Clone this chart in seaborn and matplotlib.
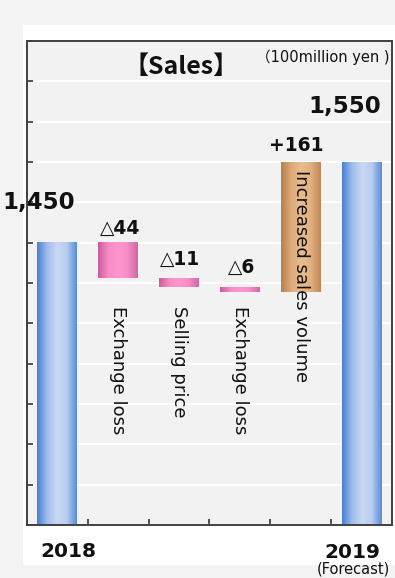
import numpy as np
import matplotlib
matplotlib.use("Agg")
import matplotlib.pyplot as plt
import seaborn as sns
from matplotlib.colors import LinearSegmentedColormap
from matplotlib.patches import Rectangle

# ---- data (100 million yen) ----
steps = ["2018", "Exchange loss", "Selling price", "Exchange loss",
         "Increased sales volume", "2019"]
start_value = 1450
deltas = [-44, -11, -6, 161]
end_value = 1550
delta_labels = ["\u25b344", "\u25b311", "\u25b36", "+161"]
total_labels = ["1,450", "1,550"]

# waterfall geometry from the data
levels = np.concatenate([[start_value], start_value + np.cumsum(deltas)])
bottoms = [0] + [min(levels[i], levels[i + 1]) for i in range(len(deltas))] + [0]
heights = [start_value] + [abs(d) for d in deltas] + [end_value]
kinds = ["total", "loss", "loss", "loss", "gain", "total"]

ymin, ymax = 1100, 1700

sns.set_theme(style="white")
plt.rcParams["font.family"] = ["DejaVu Sans", "Noto Sans CJK JP"]
plt.rcParams["text.color"] = "#111111"

fig = plt.figure(figsize=(3.95, 5.78), dpi=100, facecolor="#f3f3f3")
fig.patches.append(Rectangle((23 / 395, 13 / 578), 372 / 395, 540 / 578,
                             transform=fig.transFigure, facecolor="white",
                             edgecolor="none", zorder=-10))
ax = fig.add_axes([27 / 395, 53 / 578, 365 / 395, 484 / 578])
ax.set_facecolor("#f2f2f2")

sns.barplot(x=list(range(len(steps))), y=heights, bottom=bottoms,
            color="#a9c4ee", width=0.656, ax=ax, zorder=3, linewidth=0)

# gradient fill on each bar
grad = {
    "total": ["#4a7fd5", "#9fbcec", "#c9d8f2", "#b9cdf0", "#5a8cdb"],
    "loss": ["#cc5c9c", "#f48cc5", "#ff96ce", "#f58cc6", "#d468a6"],
    "gain": ["#b98150", "#dcaa78", "#e9bd8d", "#e2b081", "#c08856"],
}
for patch, kind in zip(ax.patches, kinds):
    cmap = LinearSegmentedColormap.from_list(kind, grad[kind])
    patch.set_facecolor(grad[kind][2])
    x0, y0 = patch.get_x(), patch.get_y()
    w, h = patch.get_width(), patch.get_height()
    lo, hi = max(y0, ymin), min(y0 + h, ymax)
    ax.imshow(np.linspace(0, 1, 64).reshape(1, -1), cmap=cmap,
              extent=[x0, x0 + w, lo, hi], aspect="auto", zorder=3.5)

ax.set_xlim(-0.5, 5.5)
ax.set_ylim(ymin, ymax)
ax.set_yticks(np.arange(ymin, ymax + 1, 50))
ax.set_yticklabels([])
ax.set_xticks(np.arange(0.5, 5, 1))
ax.set_xticklabels([])
ax.set_xlabel("")
ax.grid(axis="y", color="white", linewidth=1.6, zorder=1)
ax.set_axisbelow(True)
ax.tick_params(axis="both", direction="in", length=4, width=1.2,
               color="#333333", left=True, bottom=True)
for s in ax.spines.values():
    s.set_color("#404040")
    s.set_linewidth(1.4)
    s.set_zorder(6)

half = 0.328
# totals
ax.annotate(total_labels[0], xy=(0 + half, start_value), xytext=(-1.5, 24.5),
            textcoords="offset points", ha="right", va="baseline",
            fontsize=16.5, fontweight="bold", annotation_clip=False)
ax.annotate(total_labels[1], xy=(5 + half, end_value), xytext=(0, 35),
            textcoords="offset points", ha="right", va="baseline",
            fontsize=16.5, fontweight="bold", annotation_clip=False)

# deltas
delta_offsets = [(1.5, 6.5), (1, 9.5), (1, 10), (-3, 8)]
for i, (lab, off) in enumerate(zip(delta_labels, delta_offsets)):
    top = bottoms[i + 1] + heights[i + 1]
    ax.annotate(lab, xy=(i + 1, top), xytext=off, textcoords="offset points",
                ha="center", va="baseline", fontsize=13.5, fontweight="bold")

# rotated step names
for i in range(1, 4):
    ax.text(i, 1372, steps[i], rotation=-90, ha="center", va="top",
            fontsize=13)
ax.annotate(steps[4], xy=(4, levels[-1]), xytext=(0, -6),
            textcoords="offset points", rotation=-90, ha="center", va="top",
            fontsize=13, zorder=5)

# year labels under the axis
xt = ax.get_xaxis_transform()
ax.annotate(steps[0], xy=(0, 0), xycoords=xt, xytext=(8, -23),
            textcoords="offset points", ha="center", va="baseline",
            fontsize=14.5, fontweight="bold", annotation_clip=False)
ax.annotate(steps[5], xy=(5, 0), xycoords=xt, xytext=(-6.5, -24),
            textcoords="offset points", ha="center", va="baseline",
            fontsize=14.5, fontweight="bold", annotation_clip=False)
ax.annotate("(Forecast)", xy=(5, 0), xycoords=xt, xytext=(-6, -35),
            textcoords="offset points", ha="center", va="baseline",
            fontsize=10.5, annotation_clip=False)

# titles
ax.text((181 - 27) / 365, (525 - 67) / 484, "\u3010Sales\u3011",
        transform=ax.transAxes, ha="center", va="center", fontsize=18,
        fontweight="bold", family=["Noto Sans CJK JP", "DejaVu Sans"])
ax.text((323 - 27) / 365, (525 - 57) / 484, "\uff08100million yen )",
        transform=ax.transAxes, ha="center", va="center", fontsize=10.5)

fig.savefig("out.png", dpi=100, facecolor=fig.get_facecolor())
